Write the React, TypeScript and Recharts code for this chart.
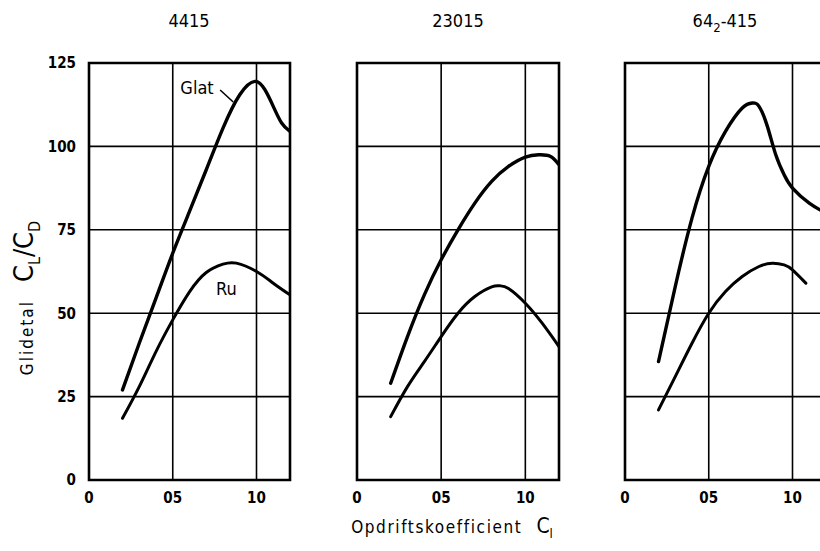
import React from "react";
import {
  LineChart,
  Line,
  XAxis,
  YAxis,
  CartesianGrid,
  ReferenceArea,
  ReferenceLine,
  ReferenceDot,
} from "recharts";

// axis ticks
const X_TICKS = [0, 0.5, 1.0];
const X_TICK_LABELS = ["0", "05", "10"];
const Y_TICKS = [0, 25, 50, 75, 100, 125];

// [C_l, C_L/C_D]
const GLAT_4415: [number, number][] = [
  [0.2, 27], [0.3, 41], [0.4, 54.5], [0.5, 68], [0.6, 80.5], [0.7, 93],
  [0.8, 105.5], [0.9, 115.5], [0.99, 119.5], [1.05, 117], [1.1, 112],
  [1.15, 107], [1.2, 104.5],
];
const RU_4415: [number, number][] = [
  [0.2, 18.5], [0.3, 28], [0.4, 38.5], [0.5, 48], [0.6, 56.4], [0.7, 62.2],
  [0.8, 64.7], [0.88, 65], [1.0, 62.5], [1.1, 59], [1.2, 55.5],
];
const GLAT_23015: [number, number][] = [
  [0.2, 29], [0.3, 43], [0.4, 55.5], [0.5, 66], [0.6, 75], [0.7, 83],
  [0.8, 89.5], [0.9, 94], [1.0, 96.8], [1.08, 97.5], [1.15, 97], [1.2, 94.5],
];
const RU_23015: [number, number][] = [
  [0.2, 19], [0.3, 28], [0.4, 35.5], [0.5, 43], [0.6, 50], [0.7, 55],
  [0.8, 57.9], [0.85, 58.2], [0.9, 57.4], [1.0, 53], [1.1, 47], [1.2, 40],
];
const GLAT_642415: [number, number][] = [
  [0.2, 35.5], [0.3, 58], [0.4, 78.5], [0.5, 94], [0.6, 104.5],
  [0.7, 111.5], [0.76, 113], [0.8, 112], [0.85, 106], [0.9, 97.5],
  [0.95, 91.5], [1.0, 87.5], [1.1, 83], [1.2, 80],
];
const RU_642415: [number, number][] = [
  [0.2, 21], [0.3, 31], [0.4, 41], [0.5, 50], [0.6, 56.5], [0.7, 61],
  [0.8, 64], [0.88, 65], [0.95, 64.5], [1.0, 63], [1.08, 59],
];

const FONT = "'DejaVu Sans Condensed', 'DejaVu Sans', sans-serif";
const INK = "#000";
const PAGE_W = 840;

const toRows = (pts: [number, number][]) => pts.map(([x, y]) => ({ x, y }));

interface Note {
  text: string;
  x: number;
  y: number;
}

interface PanelProps {
  glat: [number, number][];
  ru: [number, number][];
  plotLeft: number;
  plotRight: number;
  showY?: boolean;
  notes?: Note[];
  leader?: { x: number; y: number }[];
}

const tickFont = { fill: INK, fontSize: 15, fontWeight: "bold", fontFamily: FONT };

function Panel({ glat, ru, plotLeft, plotRight, showY, notes, leader }: PanelProps) {
  return (
    <div style={{ position: "absolute", left: 0, top: 0 }}>
      <LineChart
        width={PAGE_W}
        height={551}
        margin={{ top: 63, right: PAGE_W - plotRight, bottom: 41, left: showY ? 0 : plotLeft }}
      >
        <CartesianGrid stroke={INK} strokeWidth={1.6} />
        <XAxis
          type="number"
          dataKey="x"
          domain={[0, 1.2]}
          ticks={X_TICKS}
          tickFormatter={(v: number) => X_TICK_LABELS[X_TICKS.indexOf(v)]}
          axisLine={false}
          tickLine={false}
          tickSize={0}
          tickMargin={12}
          height={30}
          allowDataOverflow
          tick={tickFont}
        />
        <YAxis
          type="number"
          domain={[0, 125]}
          ticks={Y_TICKS}
          hide={!showY}
          width={plotLeft}
          axisLine={false}
          tickLine={false}
          tickSize={0}
          tickMargin={13}
          tick={tickFont}
        />
        <ReferenceArea
          x1={0}
          x2={1.2}
          y1={0}
          y2={125}
          fill="none"
          fillOpacity={0}
          stroke={INK}
          strokeWidth={2.6}
        />
        <Line
          data={toRows(glat)}
          dataKey="y"
          type="natural"
          dot={false}
          stroke={INK}
          strokeWidth={3.4}
          strokeLinecap="round"
          isAnimationActive={false}
        />
        <Line
          data={toRows(ru)}
          dataKey="y"
          type="natural"
          dot={false}
          stroke={INK}
          strokeWidth={3}
          strokeLinecap="round"
          isAnimationActive={false}
        />
        {leader && (
          <ReferenceLine segment={leader} stroke={INK} strokeWidth={1.6} />
        )}
        {notes?.map((n) => (
          <ReferenceDot
            key={n.text}
            x={n.x}
            y={n.y}
            r={0}
            fill="none"
            stroke="none"
            label={{ value: n.text, position: "center", fill: INK, fontSize: 18, fontFamily: FONT }}
          />
        ))}
      </LineChart>
    </div>
  );
}

const titleStyle = (cx: number): React.CSSProperties => ({
  position: "absolute",
  left: cx,
  top: 10,
  transform: "translateX(-50%)",
  fontFamily: FONT,
  fontSize: 18,
  color: INK,
  whiteSpace: "nowrap",
});

export default function App() {
  return (
    <div
      style={{
        position: "absolute",
        left: 0,
        top: 0,
        width: 820,
        height: 551,
        overflow: "hidden",
        background: "#fff",
        fontFamily: FONT,
      }}
    >
      <Panel
        glat={GLAT_4415}
        ru={RU_4415}
        plotLeft={89}
        plotRight={290}
        showY
        notes={[
          { text: "Glat", x: 0.645, y: 117.5 },
          { text: "Ru", x: 0.82, y: 57.3 },
        ]}
        leader={[
          { x: 0.783, y: 116.9 },
          { x: 0.861, y: 113.3 },
        ]}
      />
      <Panel glat={GLAT_23015} ru={RU_23015} plotLeft={357} plotRight={559} />
      <Panel glat={GLAT_642415} ru={RU_642415} plotLeft={625} plotRight={826} />

      <div style={titleStyle(189)}>4415</div>
      <div style={titleStyle(458)}>23015</div>
      <div style={titleStyle(725)}>
        64<sub style={{ fontSize: 13 }}>2</sub>-415
      </div>

      <div
        style={{
          position: "absolute",
          left: 26,
          top: 298,
          transform: "translate(-50%, -50%) rotate(-90deg)",
          whiteSpace: "nowrap",
          color: INK,
        }}
      >
        <span style={{ fontSize: 17, letterSpacing: 2 }}>Glidetal</span>
        <span style={{ fontSize: 27, marginLeft: 18 }}>
          C<sub style={{ fontSize: 16 }}>L</sub>/C<sub style={{ fontSize: 16 }}>D</sub>
        </span>
      </div>

      <div
        style={{
          position: "absolute",
          left: 452,
          top: 514,
          transform: "translateX(-50%)",
          whiteSpace: "nowrap",
          color: INK,
        }}
      >
        <span style={{ fontSize: 17, letterSpacing: 1.6 }}>Opdriftskoefficient</span>
        <span style={{ fontSize: 21, marginLeft: 14 }}>
          C<sub style={{ fontSize: 13 }}>l</sub>
        </span>
      </div>
    </div>
  );
}
